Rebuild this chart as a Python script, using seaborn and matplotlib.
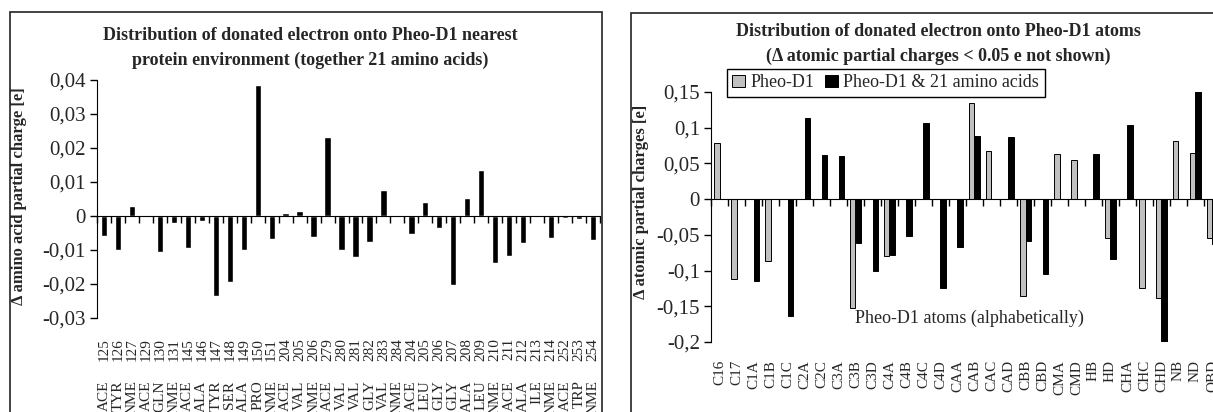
import numpy as np
import pandas as pd
import matplotlib
matplotlib.use("Agg")
import matplotlib.pyplot as plt
from matplotlib.patches import Rectangle
import seaborn as sns

# --- left panel: charge change per residue of the protein environment ---
residues = ["ACE", "TYR", "NME", "ACE", "GLN", "NME", "ACE", "ALA", "TYR", "SER",
            "ALA", "PRO", "NME", "ACE", "VAL", "NME", "ACE", "VAL", "VAL", "GLY",
            "VAL", "NME", "ACE", "LEU", "GLY", "GLY", "ALA", "LEU", "NME", "ACE",
            "ALA", "ILE", "NME", "ACE", "TRP", "NME"]
residue_numbers = [125, 126, 127, 129, 130, 131, 145, 146, 147, 148,
                   149, 150, 151, 204, 205, 206, 279, 280, 281, 282,
                   283, 284, 204, 205, 206, 207, 208, 209, 210, 211,
                   212, 213, 214, 252, 253, 254]
residue_delta = [-0.0060, -0.0100, 0.0030, 0.0000, -0.0107, -0.0022, -0.0095, -0.0016,
                 -0.0236, -0.0195, -0.0100, 0.0385, -0.0068, 0.0008, 0.0015, -0.0063,
                 0.0233, -0.0100, -0.0122, -0.0075, 0.0076, 0.0000, -0.0052, 0.0042,
                 -0.0034, -0.0204, 0.0052, 0.0135, -0.0139, -0.0117, -0.0078, 0.0003,
                 -0.0066, -0.0007, -0.0010, -0.0071]
left_yticks = [-0.03, -0.02, -0.01, 0.0, 0.01, 0.02, 0.03, 0.04]

# --- right panel: charge change per Pheo-D1 atom (|delta| < 0.05 e omitted) ---
atoms = ["C16", "C17", "C1A", "C1B", "C1C", "C2A", "C2C", "C3A", "C3B", "C3D",
         "C4A", "C4B", "C4C", "C4D", "CAA", "CAB", "CAC", "CAD", "CBB", "CBD",
         "CMA", "CMD", "HB", "HD", "CHA", "CHC", "CHD", "NB", "ND", "OBD"]
series_names = ["Pheo-D1", "Pheo-D1 & 21 amino acids"]
nan = np.nan
pheo_only = [0.079, -0.112, nan, -0.086, nan, nan, nan, nan, -0.153, nan,
             -0.080, nan, nan, nan, nan, 0.134, 0.068, nan, -0.135, nan,
             0.063, 0.055, nan, -0.055, nan, -0.124, -0.138, 0.081, 0.065, -0.054]
pheo_with_env = [nan, nan, -0.115, nan, -0.163, 0.113, 0.062, 0.061, -0.061, -0.101,
                 -0.078, -0.051, 0.107, -0.124, -0.067, 0.089, nan, 0.087, -0.059, -0.105,
                 nan, nan, 0.063, -0.084, 0.104, nan, -0.205, nan, 0.153, -0.063]
right_yticks = [-0.2, -0.15, -0.1, -0.05, 0.0, 0.05, 0.1, 0.15]

sns.set_style("white")
plt.rcParams["font.family"] = ["Liberation Serif", "DejaVu Serif"]

W, H = 1213, 412
fig = plt.figure(figsize=(W / 100, H / 100), dpi=100)


def px_box(left, top, right, bottom):
    return [left / W, 1 - bottom / H, (right - left) / W, (bottom - top) / H]


def comma(v):
    return f"{round(v, 3):g}".replace(".", ",")


ax1 = fig.add_axes(px_box(97, 80, 600, 318))
ax2 = fig.add_axes(px_box(711, 92, 1221, 342))

# chart borders
for l, t, r, b in [(10, 12, 602, 440), (631, 13, 1260, 440)]:
    fig.add_artist(Rectangle((l / W, 1 - b / H), (r - l) / W, (b - t) / H,
                             transform=fig.transFigure, fill=False,
                             edgecolor="#222222", linewidth=1.2))

df_res = pd.DataFrame({"pos": np.arange(len(residues)), "delta": residue_delta})
sns.barplot(data=df_res, x="pos", y="delta", color="black", saturation=1,
            width=0.45, errorbar=None, ax=ax1)

df_atoms = pd.DataFrame({
    "atom": atoms * 2,
    "series": [series_names[0]] * len(atoms) + [series_names[1]] * len(atoms),
    "delta": pheo_only + pheo_with_env,
})
sns.barplot(data=df_atoms, x="atom", y="delta", hue="series", order=atoms,
            hue_order=series_names, palette=["#c0c0c0", "black"], saturation=1,
            width=0.65, edgecolor="black", linewidth=0.7, errorbar=None, ax=ax2)


def category_labels(ax, labels, pad, size):
    sec = ax.secondary_xaxis(0)
    sec.set_xticks(np.arange(len(labels)), labels=labels, rotation=90, fontsize=size)
    sec.tick_params(length=0, pad=pad)
    sec.spines["bottom"].set_visible(False)


for ax, n, yt in [(ax1, len(residues), left_yticks), (ax2, len(atoms), right_yticks)]:
    ax.set_xlim(-0.5, n - 0.5)
    ax.set_ylim(yt[0], yt[-1])
    ax.set_yticks(yt, [comma(v) for v in yt])
    ax.set_xlabel("")
    ax.spines[["top", "right"]].set_visible(False)
    ax.spines["bottom"].set_position(("data", 0))
    ax.spines["bottom"].set_color("black")
    ax.spines["left"].set_color("black")
    ax.tick_params(axis="x", which="major", length=0, labelbottom=False)
    ax.set_xticks(np.arange(-0.5, n), minor=True)
    ax.tick_params(axis="x", which="minor", length=5, width=1, direction="out",
                   color="black", bottom=True)
    ax.tick_params(axis="y", length=5, width=1, direction="out", color="black",
                   left=True, labelsize=15, pad=3)

# residue number row and residue name row under the left panel
category_labels(ax1, [str(v) for v in residue_numbers], 14.5, 11)
category_labels(ax1, residues, 45, 11)
category_labels(ax2, atoms, 13, 11)

ax1.set_ylabel("\u0394 amino acid partial charge [e]", fontsize=12, fontweight="bold")
ax1.yaxis.set_label_coords(-0.14, 0.51)
ax2.set_ylabel("\u0394 atomic partial charges [e]", fontsize=12, fontweight="bold")
ax2.yaxis.set_label_coords(-0.122, 0.56)

ax2.text(0.506, 0.096, "Pheo-D1 atoms (alphabetically)", transform=ax2.transAxes,
         ha="center", va="center", fontsize=13)

handles, labels = ax2.get_legend_handles_labels()
ax2.get_legend().remove()
fig.legend(handles, labels, loc="upper left", bbox_to_anchor=(727 / W, 1 - 69 / H),
           ncol=2, fontsize=13, frameon=True, fancybox=False, edgecolor="black",
           framealpha=1, handlelength=0.7, handleheight=0.7, handletextpad=0.3,
           columnspacing=0.6, borderpad=0.3, borderaxespad=0)

fig.text(310 / W, 1 - 35 / H, "Distribution of donated electron onto Pheo-D1 nearest",
         ha="center", va="center", fontsize=13, fontweight="bold")
fig.text(310 / W, 1 - 60 / H, "protein environment (together 21 amino acids)",
         ha="center", va="center", fontsize=13, fontweight="bold")
fig.text(938 / W, 1 - 32 / H, "Distribution of donated electron onto Pheo-D1 atoms",
         ha="center", va="center", fontsize=13, fontweight="bold")
fig.text(938 / W, 1 - 56 / H, "(\u0394 atomic partial charges < 0.05 e not shown)",
         ha="center", va="center", fontsize=13, fontweight="bold")

fig.savefig("out.png", dpi=100)
